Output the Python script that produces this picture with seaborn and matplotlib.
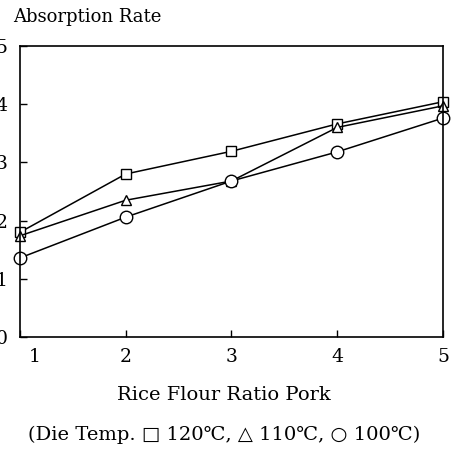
import matplotlib
matplotlib.use("Agg")
import matplotlib.pyplot as plt
import matplotlib.transforms as mtransforms
import pandas as pd
import seaborn as sns

sns.set_theme(style="white")
plt.rcParams['font.family'] = ['DejaVu Serif', 'DejaVu Sans']
plt.rcParams['text.color'] = 'black'

ratio = [1, 2, 3, 4, 5]
rate_120 = [1.80, 2.80, 3.19, 3.66, 4.04]
rate_110 = [1.74, 2.35, 2.68, 3.60, 3.97]
rate_100 = [1.36, 2.06, 2.68, 3.18, 3.76]
temps = ["120", "110", "100"]
x_ticks = [1, 2, 3, 4, 5]
y_ticks = [0, 1, 2, 3, 4, 5]

df = pd.DataFrame({
    "ratio": ratio * 3,
    "rate": rate_120 + rate_110 + rate_100,
    "temp": [t for t in temps for _ in ratio],
})

fig = plt.figure(figsize=(4.53, 4.49), dpi=100)
ax = fig.add_axes([0.044, 0.249, 0.934, 0.649])

sns.lineplot(data=df, x="ratio", y="rate", style="temp", color="black",
             markers={"120": "s", "110": "^", "100": "o"}, dashes=False,
             markersize=7, markerfacecolor="white", markeredgecolor="black",
             markeredgewidth=1.0, linewidth=1.1, legend=False, ax=ax, clip_on=False)

# circles are drawn a bit bigger than the squares in the original
for ln in ax.lines:
    if ln.get_marker() == "o":
        ln.set_markersize(9)

ax.set_xlim(1, 5)
ax.set_ylim(0, 5)
ax.set_xticks(x_ticks)
ax.set_yticks(y_ticks)
ax.set_xticklabels([str(t) for t in x_ticks])
ax.set_yticklabels([str(t) for t in y_ticks])
ax.tick_params(axis="both", direction="in", length=5, width=1, colors="black",
               labelsize=13.5, bottom=True, left=True)
ax.tick_params(axis="x", pad=8)
ax.tick_params(axis="y", pad=9)
for s in ax.spines.values():
    s.set_color("black")
    s.set_linewidth(1.2)

# first x label sits right of the corner
lab = ax.get_xticklabels()[0]
lab.set_transform(lab.get_transform() + mtransforms.ScaledTranslation(0.15, 0, fig.dpi_scale_trans))

ax.set_xlabel("")
ax.set_ylabel("")

fig.text(0.029, 0.962, "Absorption Rate", fontsize=13, ha="left", va="center")
fig.text(0.494, 0.12, "Rice Flour Ratio Pork", fontsize=14, ha="center", va="center")
fig.text(0.495, 0.032, "(Die Temp. \u25a1 120\u2103, \u25b3 110\u2103, \u25cb 100\u2103)",
         fontsize=14, ha="center", va="center")

fig.savefig("out.png", dpi=100)
